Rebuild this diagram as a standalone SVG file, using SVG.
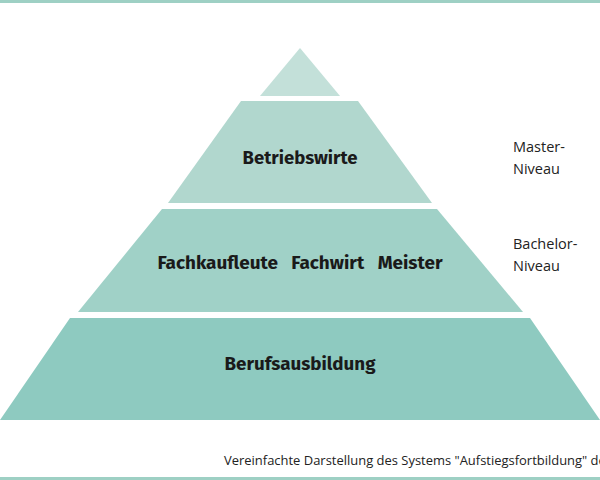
<svg xmlns="http://www.w3.org/2000/svg" width="600" height="480" viewBox="0 0 600 480">
<style>
.t{font-family:"Fira Sans","Open Sans","Liberation Sans",sans-serif;font-weight:bold;font-size:18px;fill:#1a1a1a;text-anchor:middle}
.l{font-family:"Open Sans","Liberation Sans",sans-serif;font-size:14.5px;fill:#222}
.c{font-family:"Open Sans","Liberation Sans",sans-serif;font-size:12.5px;fill:#222}
</style>
<rect width="600" height="480" fill="#fff"/>
<rect x="0" y="0" width="600" height="3" fill="#9ed0c4"/>
<rect x="0" y="477" width="600" height="3" fill="#9ed0c4"/>
<g id="top"><polygon points="300,48 340,96 260,96" fill="#c3e0d9"/></g>
<g id="betriebswirte"><polygon points="241,101 358,101 432,203 168,203" fill="#b1d7ce"/><text class="t" x="300" y="164" textLength="115" lengthAdjust="spacingAndGlyphs">Betriebswirte</text></g>
<g id="fach"><polygon points="162,209 437,209 523,312 78,312" fill="#a0d1c7"/><text class="t" x="300" y="269" xml:space="preserve" textLength="285" lengthAdjust="spacingAndGlyphs">Fachkaufleute   Fachwirt   Meister</text></g>
<g id="beruf"><polygon points="70,318 530,318 600,420 0,420" fill="#8ecac0"/><text class="t" x="300" y="370" textLength="151" lengthAdjust="spacingAndGlyphs">Berufsausbildung</text></g>
<g id="labels">
<text class="l" x="513" y="152">Master-</text><text class="l" x="513" y="174">Niveau</text>
<text class="l" x="513" y="249">Bachelor-</text><text class="l" x="513" y="271">Niveau</text>
</g>
<text class="c" x="224" y="465" textLength="388" lengthAdjust="spacingAndGlyphs">Vereinfachte Darstellung des Systems "Aufstiegsfortbildung" des</text>
<g id="connectors"/>
</svg>
